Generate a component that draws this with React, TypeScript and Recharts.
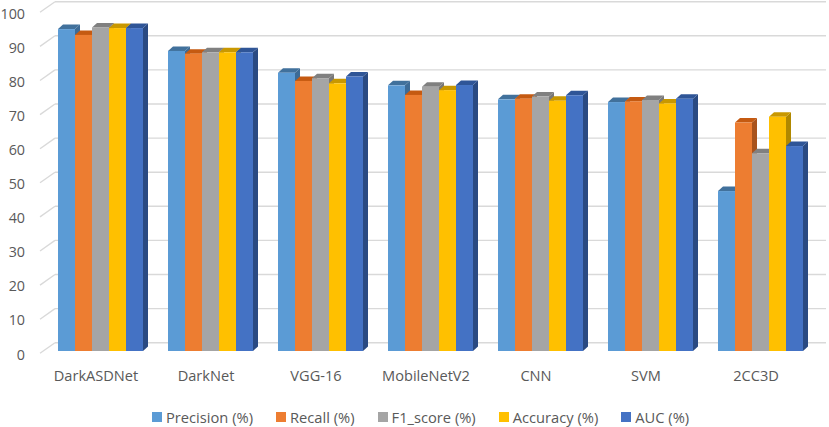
import React from 'react'
import {
  BarChart,
  Bar,
  XAxis,
  YAxis,
  CartesianGrid,
  Legend
} from 'recharts';

const categories = ['DarkASDNet', 'DarkNet', 'VGG-16', 'MobileNetV2', 'CNN', 'SVM', '2CC3D'];
const precision = [94.4, 88.0, 81.6, 77.9, 73.8, 73.0, 46.9];
const recall = [92.7, 87.2, 79.2, 75.1, 74.0, 73.2, 67.0];
const f1Score = [94.9, 87.6, 80.0, 77.5, 74.6, 73.6, 58.0];
const accuracy = [94.7, 87.6, 78.5, 76.5, 73.4, 72.6, 68.7];
const auc = [94.7, 87.6, 80.5, 78.0, 75.0, 74.0, 60.1];
const yTicks = [0, 10, 20, 30, 40, 50, 60, 70, 80, 90, 100];

const series = [
  { key: 'precision', name: 'Precision (%)', front: '#5b9bd5', top: '#41719c', side: '#3d6b96' },
  { key: 'recall', name: 'Recall (%)', front: '#ed7d31', top: '#c55a11', side: '#a9531c' },
  { key: 'f1', name: 'F1_score (%)', front: '#a5a5a5', top: '#808080', side: '#787878' },
  { key: 'accuracy', name: 'Accuracy (%)', front: '#ffc000', top: '#c99800', side: '#b08800' },
  { key: 'auc', name: 'AUC (%)', front: '#4472c4', top: '#2f5597', side: '#2a4a82' },
];

const data = categories.map((name, i) => ({
  name,
  precision: precision[i],
  recall: recall[i],
  f1: f1Score[i],
  accuracy: accuracy[i],
  auc: auc[i],
}));

const FONT = '"Open Sans", sans-serif';
const TEXT = '#595959';
const GRID = '#d9d9d9';
// back wall offset and bar depth
const BACK_DY = 8.3;
const BAR_DX = 5;
const BAR_DY = 4.5;

function makeShape(top: string, side: string) {
  return (props: any) => {
    const { x, y, width, height, fill } = props;
    if (height == null || width == null) return null;
    const b = y + height;
    return (
      <g>
        <polygon
          points={`${x + width},${y} ${x + width + BAR_DX},${y - BAR_DY} ${x + width + BAR_DX},${b - BAR_DY} ${x + width},${b}`}
          fill={side}
        />
        <polygon
          points={`${x},${y} ${x + BAR_DX},${y - BAR_DY} ${x + width + BAR_DX},${y - BAR_DY} ${x + width},${y}`}
          fill={top}
        />
        <rect x={x} y={y} width={width} height={height} fill={fill} />
      </g>
    );
  };
}

const YTick = (props: any) => {
  const { y, payload } = props;
  return (
    <g>
      <line x1={40} y1={y + 2.3} x2={55} y2={y - BACK_DY} stroke={GRID} strokeWidth={1.4} />
      <text x={25} y={y + 3} textAnchor="end" dominantBaseline="central"
        fontFamily={FONT} fontSize={14.3} fill={TEXT}>
        {payload.value}
      </text>
    </g>
  );
};

const XTick = (props: any) => {
  const { x, payload } = props;
  return (
    <text x={x - 4} y={375} textAnchor="middle" dominantBaseline="central"
      fontFamily={FONT} fontSize={14.6} fill={TEXT}>
      {payload.value}
    </text>
  );
};

const LegendContent = () => (
  <div style={{
    height: 46, display: 'flex', justifyContent: 'flex-start', alignItems: 'center',
    paddingLeft: 152, paddingTop: 26, boxSizing: 'border-box',
    fontFamily: FONT, fontSize: 14.7, color: TEXT, gap: 23,
  }}>
    {series.map(s => (
      <div key={s.key} style={{ display: 'flex', alignItems: 'center' }}>
        <span style={{ width: 10, height: 10, background: s.front, marginRight: 4, display: 'inline-block' }} />
        <span>{s.name}</span>
      </div>
    ))}
  </div>
);

const gridLine = (p: any) => (
  <line key={p.key} x1={55} x2={826} y1={p.y1 - BACK_DY} y2={p.y2 - BACK_DY}
    stroke={GRID} strokeWidth={1.4} />
);

export default function App() {
  return (
    <div style={{ position: 'absolute', left: 0, top: 0, background: '#fff' }}>
      <BarChart
        width={829}
        height={427}
        data={data}
        margin={{ top: 10, right: 14, bottom: 0, left: 0 }}
        barCategoryGap={13}
        barGap={0}
      >
        <CartesianGrid vertical={false} horizontal={gridLine} />
        <XAxis dataKey="name" axisLine={false} tickLine={false} height={30} tick={<XTick />} interval={0} />
        <YAxis type="number" domain={[0, 100]} ticks={yTicks} interval={0}
          axisLine={false} tickLine={false} width={45} tick={<YTick />} />
        <Legend verticalAlign="bottom" height={46} content={<LegendContent />} />
        {series.map(s => (
          <Bar key={s.key} dataKey={s.key} name={s.name} fill={s.front}
            shape={makeShape(s.top, s.side)} isAnimationActive={false} />
        ))}
      </BarChart>
    </div>
  );
}
